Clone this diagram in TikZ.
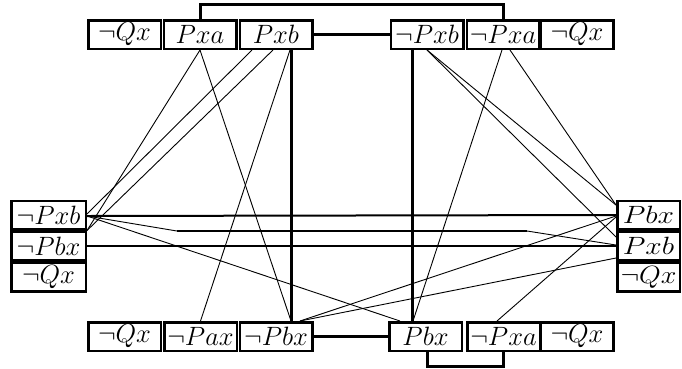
\RequirePackage{fix-cm}
\documentclass[tikz,border=0pt]{standalone}
\usepackage{graphicx}
\usetikzlibrary{calc}
\begin{document}
\begin{tikzpicture}[x=1pt,y=-1pt,
  lit/.style={draw,line width=2.5pt,minimum width=72.5pt,minimum height=28.5pt,inner sep=0pt,font=\fontsize{26.5}{30}\selectfont},
  side/.style={lit,minimum width=74.5pt},
  rside/.style={lit,minimum width=62.5pt,font=\fontsize{25}{28}\selectfont},
  heavy/.style={line width=3pt},
  medium/.style={line width=2pt},
  light/.style={line width=0.9pt}]
\useasboundingbox (0,0) rectangle (682,368);
% top row
\node[lit] (t1) at (124.5,34.5) {$\neg Qx$};
\node[lit] (t2) at (200,34.5) {$Pxa$};
\node[lit] (t3) at (276,34.5) {$Pxb$};
\node[lit] (u1) at (427,34.5) {$\neg Pxb$};
\node[lit] (u2) at (503,34.5) {$\neg Pxa$};
\node[lit] (u3) at (577,34.5) {$\neg Qx$};
% left column
\node[side] (l1) at (48.5,215) {$\neg Pxb$};
\node[side] (l2) at (48.5,246) {$\neg Pbx$};
\node[side] (l3) at (48.5,277) {$\neg Qx$};
% right column
\node[rside] (r1) at (648.5,215) {\scalebox{1.18}[1]{$Pbx$}};
\node[rside] (r2) at (648.5,246) {\scalebox{1.18}[1]{$Pxb$}};
\node[rside] (r3) at (648.5,277) {\scalebox{1.12}[1]{$\neg Qx$}};
% bottom row
\node[lit] (b1) at (124.5,336.5) {$\neg Qx$};
\node[lit] (b2) at (200.5,336.5) {$\neg Pax$};
\node[lit] (b3) at (276,336.5) {$\neg Pbx$};
\node[lit] (c1) at (425.5,336.5) {$Pbx$};
\node[lit] (c2) at (503.5,336.5) {$\neg Pxa$};
\node[lit] (c3) at (577,336.5) {$\neg Qx$};
% heavy connections
\draw[heavy] (t2.north) -- ++(0,-15) -| (u2.north);
\draw[heavy] (t3.east) -- (u1.west);
\draw[heavy] ([xshift=15pt]t3.south) -- ([xshift=15pt]b3.north);
\draw[heavy] ([xshift=-15pt]u1.south) -- ([xshift=-13.5pt]c1.north);
\draw[heavy] (b3.east) -- (c1.west);
\draw[heavy] ([xshift=1.5pt]c1.south) -- ++(0,14) -| (c2.south);
% medium horizontals
\coordinate (k1) at (177,231);
\coordinate (k2) at (527,231);
\draw[medium] ([yshift=-1pt]l1.east) -- (r1.west);
\draw[light] ([yshift=-1pt]l1.east) -- (k1);
\draw[medium] (k1) -- (k2);
\draw[light] (k2) -- ([yshift=1pt]r2.west);
\draw[medium] (l2.east) -- (r2.west);
% light connections
\draw[light] (t2.south) -- (l2.north east);
\draw[light] ([xshift=-24pt]t3.south) -- ([yshift=1pt]l1.east);
\draw[light] ([xshift=-3pt]t3.south) -- (l2.north east);
\draw[light] (t2.south) -- ([xshift=15pt]b3.north);
\draw[light] ([xshift=14pt]t3.south) -- (b2.north);
\draw[light] (u1.south) -- ([yshift=10pt]r1.west);
\draw[light] (u1.south) -- ([yshift=9pt]r2.west);
\draw[light] ([xshift=-1pt]u2.south) -- ([xshift=-12.5pt]c1.north);
\draw[light] ([xshift=7pt]u2.south) -- ([yshift=10pt]r1.west);
\draw[light] ([yshift=-1pt]l1.east) -- ([xshift=-25.5pt]c1.north);
\draw[light] ([xshift=24pt]b3.north) -- ([yshift=-1pt]r1.west);
\draw[light] ([xshift=24pt]b3.north) -- ([yshift=-12pt]r2.west);
\draw[light] ([xshift=-6.5pt]c2.north) -- ([yshift=-2pt]r1.west);
\end{tikzpicture}
\end{document}
